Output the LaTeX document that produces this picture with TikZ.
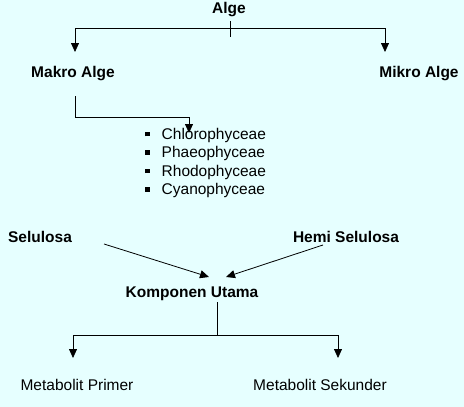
\documentclass[tikz,border=0pt]{standalone}
\usepackage{fontspec}
\setmainfont{Liberation Sans}
\usetikzlibrary{arrows.meta, positioning, calc}
\definecolor{bgcyan}{RGB}{230,255,255}
\newcommand{\sqbul}{\rule[3pt]{4.5pt}{4.5pt}}

\begin{document}
\begin{tikzpicture}[
    x=1pt, y=-1pt,
    head/.style = {font=\bfseries\fontsize{15.5}{18}\selectfont, inner sep=1pt},
    leaf/.style = {font=\fontsize{15.5}{18.4}\selectfont, inner sep=1pt},
    link/.style = {line width=0.8pt},
    tip/.style  = {link, -{Triangle[length=9pt,width=8pt]}},
]
\fill[bgcyan] (0,0) rectangle (464,407);
\useasboundingbox (0,0) rectangle (464,407);

% ---- top of the tree ----
\node[head] (alge)  at (229,10)  {Alge};
\node[head] (makro) at (73,74)   {Makro Alge};
\node[head] (mikro) at (419,74)  {Mikro Alge};

% ---- groups of the macro algae ----
\node[leaf, align=left, anchor=north west] (groups) at (144,127)
     {\sqbul\hspace{12pt}Chlorophyceae\\
      \sqbul\hspace{12pt}Phaeophyceae\\
      \sqbul\hspace{12pt}Rhodophyceae\\
      \sqbul\hspace{12pt}Cyanophyceae};

% ---- sources and main component ----
\node[head] (selulosa) at (40,237)  {Selulosa};
\node[head] (hemi)     at (346,237) {Hemi Selulosa};
\node[head] (komponen) at (192,294) {Komponen Utama};

% ---- metabolites ----
\node[leaf] (primer)   at (77,385)  {Metabolit Primer};
\node[leaf] (sekunder) at (320,385) {Metabolit Sekunder};

% ---- free ends of the connectors ----
\coordinate (algefork)  at (230,28);
\coordinate (makrotop)  at (75,52);
\coordinate (mikrotop)  at (385,52);
\coordinate (makroout)  at (75,96);
\coordinate (groupsin)  at (189,133);
\coordinate (selout)    at (104,244);
\coordinate (hemiout)   at (323,245);
\coordinate (komin1)    at (209,277);
\coordinate (komin2)    at (226,277);
\coordinate (komout)    at (217,302);
\coordinate (komfork)   at (217,335);
\coordinate (primtop)   at (73,358);
\coordinate (sektop)    at (338,358);

% Alge splits into makro and mikro
\draw[link] (algefork) ++(0,-7) -- ++(0,16);
\draw[tip]  (algefork) -| (makrotop);
\draw[tip]  (algefork) -| (mikrotop);

% makro alge -> its groups
\draw[tip]  (makroout) -- ++(0,21) -| (groupsin);

% both celluloses feed the main component
\draw[tip]  (selout)  -- (komin1);
\draw[tip]  (hemiout) -- (komin2);

% main component -> metabolites
\draw[link] (komout) -- (komfork);
\draw[tip]  (komfork) -| (primtop);
\draw[tip]  (komfork) -| (sektop);

\end{tikzpicture}
\end{document}
